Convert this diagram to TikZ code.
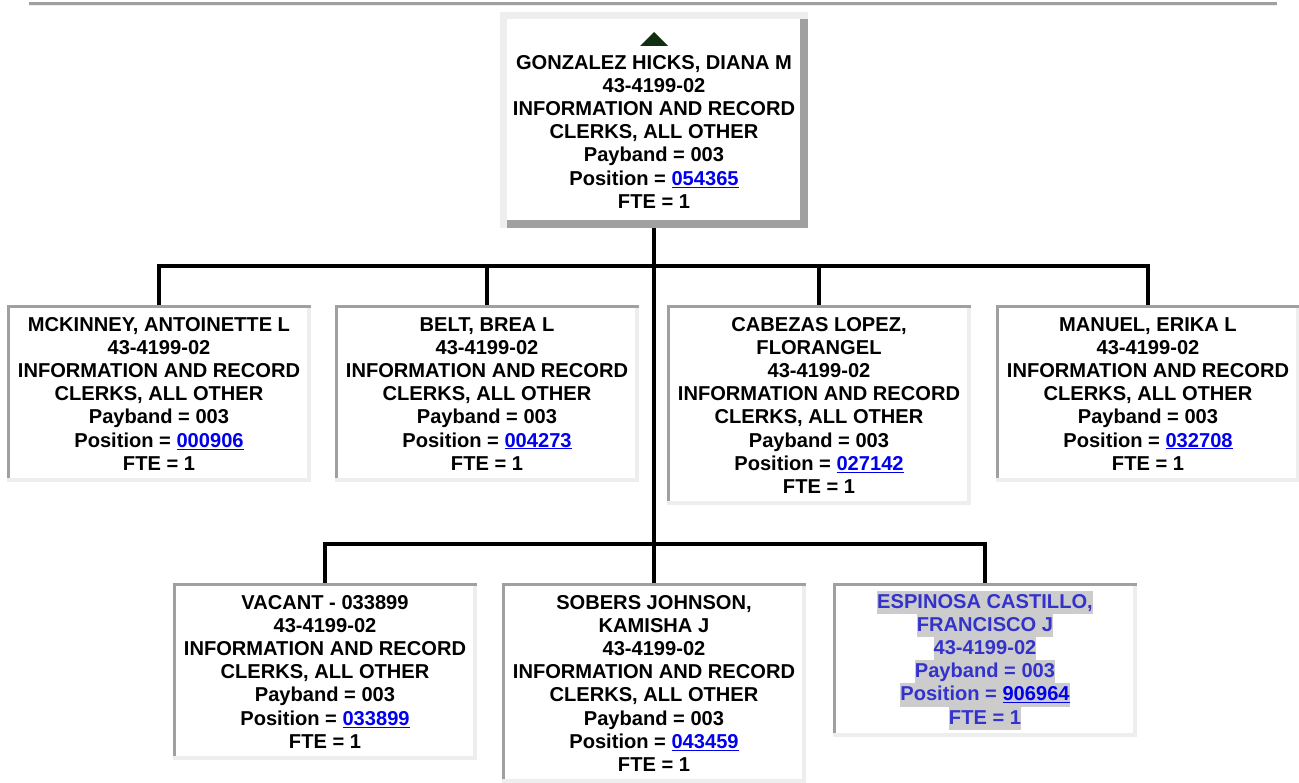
\documentclass[tikz,border=0pt]{standalone}
\usepackage{fontspec}
\setmainfont{Liberation Sans}
\usepackage{xcolor}
\usetikzlibrary{positioning}

\definecolor{edgedark}{HTML}{A0A0A0}
\definecolor{edgelight}{HTML}{EEEEEE}
\definecolor{hlgray}{HTML}{CCCCCC}
\definecolor{vacblue}{HTML}{3333CC}
\definecolor{linkblue}{HTML}{0000EE}
\definecolor{markgreen}{HTML}{103010}

\newcommand{\poslink}[1]{\textcolor{linkblue}{\underline{#1}}}
\newcommand{\hlline}[1]{{\setlength{\fboxsep}{0pt}\colorbox{hlgray}{\rule[-5.8pt]{0pt}{23.2pt}#1}}}
\newcommand{\upmark}{\tikz\fill[markgreen] (0pt,0pt) -- (28pt,0pt) -- (14pt,14pt) -- cycle;}

\begin{document}
\begin{tikzpicture}[x=1pt, y=-1pt,
  chiefbox/.style={rectangle, inner sep=0pt, align=center, fill=white,
    font=\fontsize{20.1}{23.2}\selectfont\bfseries,
    path picture={
      \fill[edgelight] (path picture bounding box.south west) rectangle (path picture bounding box.north east);
      \fill[edgedark] ([xshift=7pt]path picture bounding box.south west) rectangle ([yshift=-7pt]path picture bounding box.north east);
      \fill[white] ([xshift=7pt,yshift=8pt]path picture bounding box.south west) rectangle ([xshift=-8pt,yshift=-7pt]path picture bounding box.north east);
    }},
  childbox/.style={rectangle, inner sep=0pt, align=center, fill=white,
    minimum width=304pt, font=\fontsize{20.1}{23.2}\selectfont\bfseries,
    path picture={
      \fill[edgelight] (path picture bounding box.south west) rectangle (path picture bounding box.north east);
      \fill[edgedark] ([yshift=-3pt]path picture bounding box.north west) rectangle (path picture bounding box.north east);
      \fill[edgedark] ([yshift=4pt]path picture bounding box.south west) rectangle ([xshift=3pt]path picture bounding box.north west);
      \fill[white] ([xshift=3pt,yshift=4pt]path picture bounding box.south west) rectangle ([xshift=-4pt,yshift=-3pt]path picture bounding box.north east);
    }},
  wire/.style={line width=4pt}]
  \useasboundingbox (0,0) rectangle (1299,783);

  % rule across the top
  \fill[edgedark] (29,2) rectangle (1277,5);
  \fill[edgelight] (29,5) rectangle (1277,6);

  % supervisor
  \node[chiefbox, anchor=north, minimum width=308pt, minimum height=216pt] (chief) at (654,12)
    {\upmark\\GONZALEZ HICKS, DIANA M\\43-4199-02\\INFORMATION AND RECORD\\CLERKS, ALL OTHER\\Payband = 003\\Position = \poslink{054365}\\FTE = 1};

  % first row
  \node[childbox, anchor=north, minimum height=177pt] (mckinney) at (159,305)
    {MCKINNEY, ANTOINETTE L\\43-4199-02\\INFORMATION AND RECORD\\CLERKS, ALL OTHER\\Payband = 003\\Position = \poslink{000906}\\FTE = 1};
  \node[childbox, anchor=north, minimum height=177pt] (belt) at (487,305)
    {BELT, BREA L\\43-4199-02\\INFORMATION AND RECORD\\CLERKS, ALL OTHER\\Payband = 003\\Position = \poslink{004273}\\FTE = 1};
  \node[childbox, anchor=north, minimum height=200pt] (cabezas) at (819,305)
    {CABEZAS LOPEZ,\\FLORANGEL\\43-4199-02\\INFORMATION AND RECORD\\CLERKS, ALL OTHER\\Payband = 003\\Position = \poslink{027142}\\FTE = 1};
  \node[childbox, anchor=north, minimum height=177pt] (manuel) at (1148,305)
    {MANUEL, ERIKA L\\43-4199-02\\INFORMATION AND RECORD\\CLERKS, ALL OTHER\\Payband = 003\\Position = \poslink{032708}\\FTE = 1};

  % second row
  \node[childbox, anchor=north, minimum height=177pt] (vacant) at (325,583)
    {VACANT - 033899\\43-4199-02\\INFORMATION AND RECORD\\CLERKS, ALL OTHER\\Payband = 003\\Position = \poslink{033899}\\FTE = 1};
  \node[childbox, anchor=north, minimum height=200pt] (sobers) at (654,583)
    {SOBERS JOHNSON,\\KAMISHA J\\43-4199-02\\INFORMATION AND RECORD\\CLERKS, ALL OTHER\\Payband = 003\\Position = \poslink{043459}\\FTE = 1};
  \node[childbox, anchor=north, minimum height=154pt, text=vacblue] (espinosa) at (985,583)
    {\hlline{ESPINOSA CASTILLO,}\\\hlline{FRANCISCO J}\\\hlline{43-4199-02}\\\hlline{Payband = 003}\\\hlline{Position = \poslink{906964}}\\\hlline{FTE = 1}};

  % connectors
  \coordinate (barone) at (654,266);
  \coordinate (bartwo) at (654,544);
  \draw[wire] (chief.south) -- (sobers.north);
  \draw[wire] (mckinney.north) |- (barone) -| (manuel.north);
  \draw[wire] (belt.north) -- (belt.north |- barone);
  \draw[wire] (cabezas.north) -- (cabezas.north |- barone);
  \draw[wire] (vacant.north) |- (bartwo) -| (espinosa.north);
\end{tikzpicture}
\end{document}
